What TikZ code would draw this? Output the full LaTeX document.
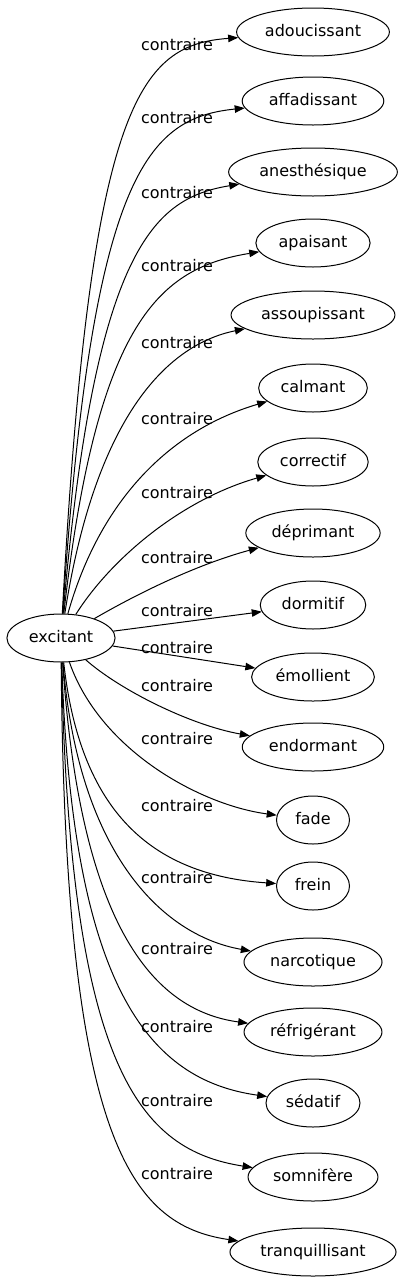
\documentclass[tikz,border=0pt]{standalone}
\usepackage{fontspec}
\setmainfont{DejaVu Sans}
\usetikzlibrary{arrows.meta,shapes.geometric}
\begin{document}
\begin{tikzpicture}[x=1pt,y=-1pt,
  every node/.style={font=\fontsize{16}{19}\selectfont},
  word/.style={draw,line width=1pt,ellipse,inner xsep=6pt,inner ysep=2pt,text height=12pt,text depth=3pt,minimum height=48pt,minimum width=73pt},
  lbl/.style={inner sep=0pt,text height=12pt,text depth=0pt},
  edge/.style={line width=1pt,-{Triangle[length=10pt,width=7.5pt]}}]
\useasboundingbox (0,0) rectangle (401,1283);
\node[word] (root) at (61,638) {excitant};
\node[word] (n1) at (313,32) {adoucissant};
\node[word] (n2) at (313,101) {affadissant};
\node[word] (n3) at (313,172) {anesthésique};
\node[word] (n4) at (313,243) {apaisant};
\node[word] (n5) at (313,315) {assoupissant};
\node[word] (n6) at (313,388) {calmant};
\node[word] (n7) at (313,462) {correctif};
\node[word] (n8) at (313,533) {déprimant};
\node[word] (n9) at (313,605) {dormitif};
\node[word] (n10) at (313,677) {émollient};
\node[word] (n11) at (313,747) {endormant};
\node[word] (n12) at (313,820) {fade};
\node[word] (n13) at (313,886) {frein};
\node[word] (n14) at (313,962) {narcotique};
\node[word] (n15) at (313,1032) {réfrigérant};
\node[word] (n16) at (313,1103) {sédatif};
\node[word] (n17) at (313,1177) {somnifère};
\node[word] (n18) at (313,1252) {tranquillisant};
\node[lbl] (l1) at (177,44) {contraire};
\node[lbl] (l2) at (177,117) {contraire};
\node[lbl] (l3) at (177,192) {contraire};
\node[lbl] (l4) at (177,265) {contraire};
\node[lbl] (l5) at (177,342) {contraire};
\node[lbl] (l6) at (177,418) {contraire};
\node[lbl] (l7) at (177,492) {contraire};
\node[lbl] (l8) at (177,557) {contraire};
\node[lbl] (l9) at (177,610) {contraire};
\node[lbl] (l10) at (177,647) {contraire};
\node[lbl] (l11) at (177,685) {contraire};
\node[lbl] (l12) at (177,738) {contraire};
\node[lbl] (l13) at (177,805) {contraire};
\node[lbl] (l14) at (177,877) {contraire};
\node[lbl] (l15) at (177,948) {contraire};
\node[lbl] (l16) at (177,1026) {contraire};
\node[lbl] (l17) at (177,1100) {contraire};
\node[lbl] (l18) at (177,1173) {contraire};
\draw[edge] (root) .. controls (90,100) and (140,45) .. (n1);
\draw[edge] (root) .. controls (92,172) and (148,118) .. (n2);
\draw[edge] (root) .. controls (95,245) and (155,198) .. (n3);
\draw[edge] (root) .. controls (97,320) and (160,268) .. (n4);
\draw[edge] (root) .. controls (95,420) and (165,345) .. (n5);
\draw[edge] (root) .. controls (100,500) and (170,430) .. (n6);
\draw[edge] (root) .. controls (110,560) and (180,500) .. (n7);
\draw[edge] (root) .. controls (135,595) and (195,565) .. (n8);
\draw[edge] (root) -- (n9);
\draw[edge] (root) -- (n10);
\draw[edge] (root) .. controls (120,690) and (190,725) .. (n11);
\draw[edge] (root) .. controls (100,750) and (200,805) .. (n12);
\draw[edge] (root) .. controls (80,810) and (150,875) .. (n13);
\draw[edge] (root) .. controls (78,850) and (160,935) .. (n14);
\draw[edge] (root) .. controls (80,920) and (150,1010) .. (n15);
\draw[edge] (root) .. controls (72,990) and (150,1080) .. (n16);
\draw[edge] (root) .. controls (70,1070) and (140,1150) .. (n17);
\draw[edge] (root) .. controls (65,1140) and (130,1225) .. (n18);
\end{tikzpicture}
\end{document}
